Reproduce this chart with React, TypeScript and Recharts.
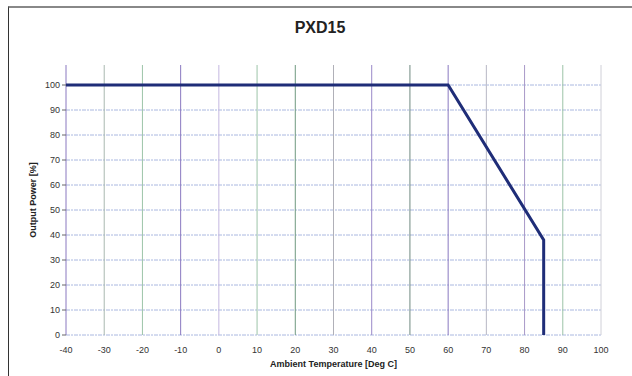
import { LineChart, Line, XAxis, YAxis, ReferenceLine, Label } from 'recharts';

// derating curve points
const temps = [-40, 60, 85, 85];
const power = [100, 100, 38, 0];

const xTicks = [-40, -30, -20, -10, 0, 10, 20, 30, 40, 50, 60, 70, 80, 90, 100];
const yTicks = [0, 10, 20, 30, 40, 50, 60, 70, 80, 90, 100];

// scanned grid lines come in mixed tints
const vColors = [
  '#8a78c0', '#a9b8b0', '#9cc4a8', '#8a78c0', '#c4b8e0', '#9cc4a8', '#6f9a80',
  '#b0b0b8', '#9a88c8', '#6f8a80', '#8a78c0', '#b8b8c4', '#a898c8', '#9cc4a8', '#d0d0d8',
];

const data = temps.map((t, i) => ({ temp: t, power: power[i] }));

const font = '"Liberation Sans", Arial, sans-serif';

export default function App() {
  return (
    <div style={{ position: 'absolute', left: 0, top: 0, width: 632, height: 376, background: '#fff', overflow: 'hidden', fontFamily: font }}>
      <div style={{ position: 'absolute', left: 8, top: 6, width: 700, height: 400, borderLeft: '1px solid #333', borderTop: '2px solid #888' }} />
      <div style={{ position: 'absolute', left: 0, width: 640, top: 19, textAlign: 'center', fontWeight: 'bold', fontSize: 16, color: '#222' }}>
        PXD15
      </div>
      <div style={{ position: 'absolute', left: 0, top: 0 }}>
        <LineChart width={632} height={376} data={data} margin={{ top: 65, right: 31, left: 0, bottom: 0 }}>
          {yTicks.map((v) => (
            <ReferenceLine key={'h' + v} y={v} stroke="#aab8e0" strokeDasharray="4 1 2 1" strokeWidth={1} />
          ))}
          {xTicks.map((v, i) => (
            <ReferenceLine key={'v' + v} x={v} stroke={vColors[i]} strokeWidth={1} />
          ))}
          <XAxis
            dataKey="temp"
            type="number"
            domain={[-40, 100]}
            ticks={xTicks}
            height={41}
            axisLine={false}
            tickLine={false}
            tick={{ fontSize: 9, fill: '#333', fontFamily: font }}
            tickMargin={6}
          >
            <Label value="Ambient Temperature [Deg C]" position="insideBottom" offset={9} style={{ fontSize: 9, fontWeight: 'bold', fill: '#222', fontFamily: font }} />
          </XAxis>
          <YAxis
            type="number"
            domain={[0, 108]}
            ticks={yTicks}
            width={66}
            axisLine={false}
            tickLine={{ stroke: '#666' }}
            tickSize={4}
            tick={{ fontSize: 9, fill: '#333', fontFamily: font }}
          >
            <Label value="Output Power [%]" angle={-90} position="center" style={{ fontSize: 9, fontWeight: 'bold', fill: '#222', fontFamily: font, textAnchor: 'middle' }} />
          </YAxis>
          <Line dataKey="power" stroke="#1f2d78" strokeWidth={3} dot={false} isAnimationActive={false} strokeLinejoin="miter" />
        </LineChart>
      </div>
    </div>
  );
}
